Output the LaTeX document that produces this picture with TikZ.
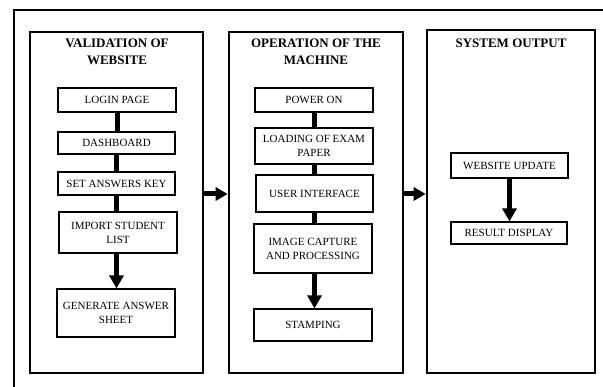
\documentclass[tikz,border=0pt]{standalone}
\usepackage{fontspec}
\setmainfont{Liberation Serif}
\usetikzlibrary{arrows.meta}
\begin{document}
\begin{tikzpicture}[x=1pt,y=-1pt,
  frame/.style={line width=1.8pt},
  panel/.style={draw,line width=2.6pt,inner sep=0pt},
  title/.style={align=center,font=\fontsize{13}{17}\selectfont\bfseries},
  stepbox/.style={draw,line width=1.2pt,align=center,inner sep=0pt,
    font=\fontsize{11}{14}\selectfont},
  link/.style={line width=5pt},
  linkarrow/.style={line width=5pt,-{Triangle[length=13pt,width=14pt]}},
  flowarrow/.style={line width=5pt,-{Triangle[length=12pt,width=13pt]}}]
\useasboundingbox (0,0) rectangle (603,387);

% outer frame, open at the right and bottom
\draw[frame] (14,387) -- (14,10) -- (603,10);

% the three stages
\node[panel,minimum width=173pt,minimum height=341pt] (p1) at (116.5,202.5) {};
\node[panel,minimum width=174pt,minimum height=341pt] (p2) at (316,202.5) {};
\node[panel,minimum width=168pt,minimum height=343pt] (p3) at (511,201.5) {};

\node[title] (t1) at (117,51.5) {VALIDATION OF\\WEBSITE};
\node[title] (t2) at (316,51.5) {OPERATION OF THE\\MACHINE};
\node[title] (t3) at (511,43) {SYSTEM OUTPUT};

% website validation steps
\node[stepbox,minimum width=118pt,minimum height=24pt] (login) at (117,100) {LOGIN PAGE};
\node[stepbox,minimum width=117pt,minimum height=22pt] (dash) at (116.5,143) {DASHBOARD};
\node[stepbox,minimum width=117pt,minimum height=23pt] (key) at (116.5,183.5) {SET ANSWERS KEY};
\node[stepbox,minimum width=118pt,minimum height=41pt] (import) at (118,232.5) {IMPORT STUDENT\\LIST};
\node[stepbox,minimum width=118pt,minimum height=48pt] (sheet) at (116,313) {GENERATE ANSWER\\SHEET};

% machine operation steps
\node[stepbox,minimum width=118pt,minimum height=24pt] (power) at (314,100) {POWER ON};
\node[stepbox,minimum width=118pt,minimum height=36pt] (load) at (314,146) {LOADING OF EXAM\\PAPER};
\node[stepbox,minimum width=117pt,minimum height=37pt] (ui) at (314.5,193.5) {USER INTERFACE};
\node[stepbox,minimum width=118pt,minimum height=49pt] (capture) at (313,248.5) {IMAGE CAPTURE\\AND PROCESSING};
\node[stepbox,minimum width=118pt,minimum height=32pt] (stamp) at (313,325) {STAMPING};

% output steps
\node[stepbox,minimum width=117pt,minimum height=25pt] (update) at (509.5,165.5) {WEBSITE UPDATE};
\node[stepbox,minimum width=116pt,minimum height=22pt] (result) at (509,233) {RESULT DISPLAY};

% connectors inside the stages
\draw[link] (login.south) -- (login.south |- dash.north);
\draw[link] (dash.south) -- (dash.south |- key.north);
\draw[link] (key.south) -- (key.south |- import.north);
\draw[linkarrow] (import.south -| key.south) -- (key.south |- sheet.north);

\draw[link] (power.south) -- (power.south |- load.north);
\draw[link] (load.south) -- (load.south |- ui.north);
\draw[link] (ui.south) -- (ui.south |- capture.north);
\draw[linkarrow] (capture.south -| ui.south) -- (ui.south |- stamp.north);

\draw[linkarrow] (update.south) -- (update.south |- result.north);

% arrows between the stages
\draw[flowarrow] (p1.east |- 0,194) -- (p2.west |- 0,194);
\draw[flowarrow] (p2.east |- 0,194) -- (p3.west |- 0,194);
\end{tikzpicture}
\end{document}
